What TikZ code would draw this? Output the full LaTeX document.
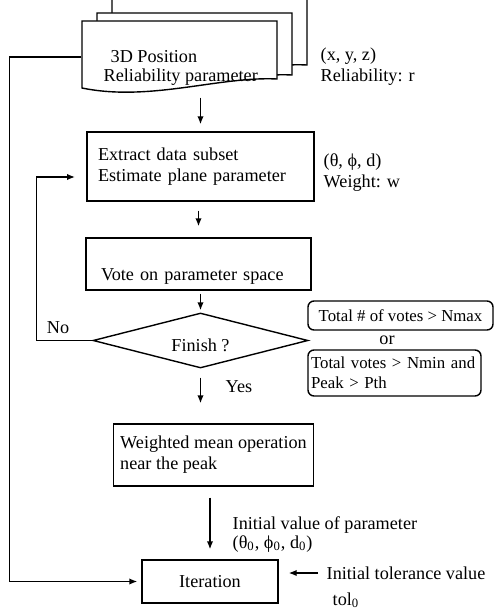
\documentclass[tikz,border=0pt]{standalone}
\usepackage{fontspec}
\setmainfont{Liberation Serif}
\usetikzlibrary{shapes.geometric,arrows.meta}

\begin{document}
\begin{tikzpicture}[x=0.5pt,y=-0.5pt,line width=0.7pt,
	every node/.style={font=\fontsize{9.1}{10.6}\selectfont},
	box/.style={draw,rectangle},
	cond/.style={draw,rounded corners=3pt,font=\fontsize{8.4}{10}\selectfont},
	txt/.style={anchor=west,inner sep=0pt},
	arr/.style={-{Latex[length=4pt,width=3.2pt]}}]
\useasboundingbox (0,0) rectangle (499,615);
\clip (0,0) rectangle (499,615);

% stack of documents
\foreach \lx/\ty/\rx/\by in {112/-10/307/65, 97/13/292/75, 82/21/277/79}
{
	\draw[fill=white] (\lx,{\by+9}) -- (\lx,\ty) -- (\rx,\ty) -- (\rx,\by) .. controls ({\rx-57},{\by-3}) and ({\lx+68},{\by+23}) .. cycle;
}
\node[minimum width=97.5pt,minimum height=36pt,inner sep=0pt] (pos) at (179.5,57) {};
\node[txt] (posa) at (110,57) {3D Position};
\node[txt] (posb) at (103,77) {Reliability parameter};
\node[txt] (xyz) at (320,56) {(x, y, z)};
\node[txt] (rel) at (320,77) {Reliability: r};

\node[box,minimum width=113.5pt,minimum height=34.5pt,text width=102.5pt,inner xsep=5.5pt,align=left] (extract) at (200.5,166.5) {Extract data subset\\Estimate plane parameter};
\node[txt] (tpd) at (323,162) {(θ, ϕ, d)};
\node[txt] (wgt) at (323,183) {Weight: w};
\coordinate (fb) at (75,177);

\node[box,minimum width=112.5pt,minimum height=26pt,text width=97.5pt,inner xsep=7.5pt,text height=16pt,text depth=0pt] (vote) at (198.5,264) {Vote on parameter space};

\node[draw,diamond,aspect=4,inner sep=0pt,minimum width=107.5pt,minimum height=27.5pt,text height=11pt,text depth=0pt] (finish) at (200.5,340.5) {Finish ?};
\node[inner sep=0pt] (no) at (58,328) {No};
\node[txt] (yes) at (225,387) {Yes};

\node[cond,minimum width=92.5pt,minimum height=14.5pt] (cond1) at (400.5,315.5) {Total \# of votes > Nmax};
\node[inner sep=0pt] (orlbl) at (387,340) {or};
\node[cond,minimum width=86.5pt,minimum height=23pt,text width=83.5pt,inner xsep=1.5pt,align=left] (cond2) at (394.5,373) {Total votes > Nmin and\\Peak > Pth};

\node[box,minimum width=99.5pt,minimum height=31pt,align=left] (weighted) at (213.5,455) {Weighted mean operation\\near the peak};
\node[txt] (init) at (232,525) {Initial value of parameter};
\node[txt] (init0) at (232,544) {(θ\textsubscript{0}, ϕ\textsubscript{0}, d\textsubscript{0})};

\node[box,minimum width=68pt,minimum height=21.5pt] (iter) at (210,581.5) {Iteration};
\node[txt] (tol) at (326,573) {Initial tolerance value};
\node[txt] (tol0) at (332,600) {tol\textsubscript{0}};

% connectors
\draw[arr,shorten <=2pt,shorten >=3.5pt] (pos.south -| extract.north) -- (extract.north);
\draw[arr,shorten <=4.5pt,shorten >=5.5pt] (extract.south -| vote.north) -- (vote.north);
\draw[arr,shorten <=1.5pt,shorten >=1pt] (vote.south -| finish.north) -- (finish.north);
\draw[arr,shorten <=4.5pt,shorten >=10pt] (finish.south) -- (finish.south |- weighted.north);
\draw[arr,shorten <=5.5pt,shorten >=5pt] (weighted.south -| iter.north) -- (iter.north);
\draw[arr] (finish.west) -- ++(-56,0) |- (fb);
\draw[arr,shorten >=2pt] (pos.west) -- ++(-72,0) |- (iter.west);
\draw[arr,shorten <=4pt,shorten >=5pt] (tol.west) -- (tol.west -| iter.east);
\end{tikzpicture}
\end{document}
